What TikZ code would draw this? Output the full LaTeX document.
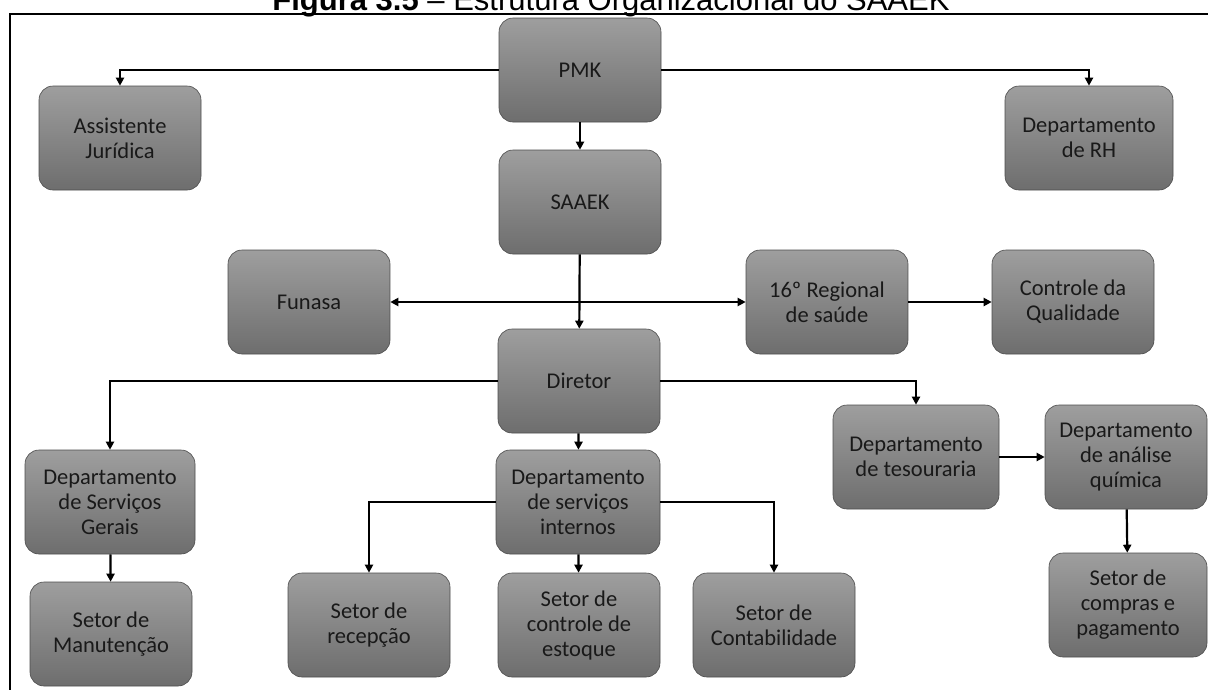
\documentclass[tikz,border=0pt]{standalone}
\usepackage{fontspec}
\setmainfont{Carlito}
\newfontfamily\titlefont{Liberation Sans}
\usetikzlibrary{arrows.meta}

\begin{document}
\begin{tikzpicture}[x=1pt,y=-1pt,
    orgbox/.style={draw=black!70,line width=0.6pt,rounded corners=14pt,
      top color=black!38,bottom color=black!57,
      minimum width=162pt,minimum height=104pt,align=center,
      text=black!90,font=\fontsize{22.5}{25}\selectfont},
    link/.style={line width=2.2pt,-{Triangle[length=8pt,width=8pt]}}]
  \useasboundingbox (0,0) rectangle (1208,689);
  % title and frame
  \node[anchor=base,inner sep=0pt] (title) at (611,10)
    {\titlefont\fontsize{31}{34}\selectfont\textbf{Figura 3.5} – Estrutura Organizacional do SAAEK};
  \draw[line width=1.8pt] (10,700) -- (10,14) -- (1210,14);
  % boxes
  \node[orgbox] (pmk) at (580,70) {PMK};
  \node[orgbox] (assist) at (120,138) {Assistente\\Jurídica};
  \node[orgbox,minimum width=168pt] (rh) at (1089,138) {Departamento\\de RH};
  \node[orgbox] (saaek) at (580,202) {SAAEK};
  \node[orgbox] (funasa) at (309,302) {Funasa};
  \node[orgbox] (regional) at (827,302) {16º Regional\\de saúde};
  \node[orgbox] (controle) at (1073,302) {Controle da\\Qualidade};
  \node[orgbox] (diretor) at (579,381) {Diretor};
  \node[orgbox,minimum width=166pt] (tesour) at (916,457) {Departamento\\de tesouraria};
  \node[orgbox] (analise) at (1126,457) {Departamento\\de análise\\química};
  \node[orgbox,minimum width=158pt] (compras) at (1128,605) {Setor de\\compras e\\pagamento};
  \node[orgbox,minimum width=170pt] (dsg) at (110,502) {Departamento\\de Serviços\\Gerais};
  \node[orgbox] (manut) at (111,634) {Setor de\\Manutenção};
  \node[orgbox,minimum width=164pt] (dsi) at (578,502) {Departamento\\de serviços\\internos};
  \node[orgbox] (recep) at (369,625) {Setor de\\recepção};
  \node[orgbox] (estoque) at (579,625) {Setor de\\controle de\\estoque};
  \node[orgbox] (contab) at (774,625) {Setor de\\Contabilidade};
  % connectors
  \begin{scope}[link]
    \draw (pmk.west) -| (assist.north);
    \draw (pmk.east) -| (rh.north);
    \draw (pmk) -- (saaek);
    \draw (saaek) -- (diretor);
    \draw[{Triangle[length=8pt,width=8pt]}-{Triangle[length=8pt,width=8pt]}] (funasa) -- (regional);
    \draw (regional) -- (controle);
    \draw (diretor.west) -| (dsg.north);
    \draw (diretor.east) -| (tesour.north);
    \draw (diretor) -- (dsi);
    \draw (dsg) -- (manut);
    \draw (tesour) -- (analise);
    \draw (analise) -- (compras);
    \draw (dsi.west) -| (recep.north);
    \draw (dsi) -- (estoque);
    \draw (dsi.east) -| (contab.north);
  \end{scope}
\end{tikzpicture}
\end{document}
